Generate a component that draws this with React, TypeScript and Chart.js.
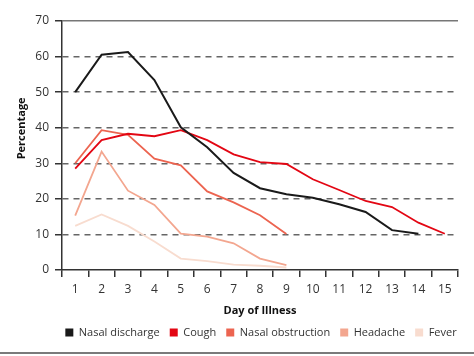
import React, { useEffect, useRef } from "react";
import { Chart, registerables } from "chart.js";

Chart.register(...registerables);

const days = ["1", "2", "3", "4", "5", "6", "7", "8", "9", "10", "11", "12", "13", "14", "15"];
const nasalDischarge = [50, 60.5, 61.3, 53.4, 40.1, 34.5, 27.3, 23, 21.3, 20.3, 18.5, 16.3, 11.2, 10.2, null];
const cough = [28.5, 36.5, 38.3, 37.6, 39.3, 36.5, 32.5, 30.3, 29.8, 25.5, 22.5, 19.4, 17.7, 13.3, 10.2];
const nasalObstruction = [30, 39.3, 38, 31.3, 29.4, 22.1, 19, 15.4, 10.1, null, null, null, null, null, null];
const headache = [15.3, 33.3, 22.3, 18.3, 10.2, 9.4, 7.5, 3.2, 1.4, null, null, null, null, null, null];
const fever = [12.4, 15.6, 12.4, 8, 3.2, 2.5, 1.5, 1.2, 0.7, null, null, null, null, null, null];
const seriesNames = ["Nasal discharge", "Cough", "Nasal obstruction", "Headache", "Fever"];
const seriesColors = ["#1a1a1a", "#e30613", "#ec6450", "#f3a68f", "#f8dccf"];
const yTitle = "Percentage";
const xTitle = "Day of Illness";

const FONT = "'Open Sans', 'Noto Sans', sans-serif";

export default function App() {
  const ref = useRef<HTMLCanvasElement | null>(null);

  useEffect(() => {
    document.body.style.margin = "0";
    const canvas = ref.current;
    if (!canvas) return;
    const values = [nasalDischarge, cough, nasalObstruction, headache, fever];

    const shiftLegend = {
      id: "shiftLegend",
      afterLayout(chart: any) {
        const l = chart.legend;
        if (l) {
          l.left += 32;
          l.right += 32;
        }
      },
    };
    const bottomRule = {
      id: "bottomRule",
      afterDraw(chart: any) {
        const ctx = chart.ctx;
        ctx.save();
        ctx.strokeStyle = "#7a7a7a";
        ctx.lineWidth = 2;
        ctx.beginPath();
        ctx.moveTo(0, 353);
        ctx.lineTo(chart.width, 353);
        ctx.stroke();
        ctx.restore();
      },
    };

    const chart = new Chart(canvas, {
      type: "line",
      data: {
        labels: days,
        datasets: values.map((v, i) => ({
          label: seriesNames[i],
          data: v,
          borderColor: seriesColors[i],
          backgroundColor: seriesColors[i],
          borderWidth: i === 0 ? 2 : 1.8,
          pointRadius: 0,
          tension: 0,
          spanGaps: false,
        })),
      },
      options: {
        animation: false,
        responsive: false,
        maintainAspectRatio: false,
        layout: { padding: { top: 21, right: 16, left: 0, bottom: 8 } },
        plugins: {
          tooltip: { enabled: false },
          legend: {
            position: "bottom",
            labels: {
              boxWidth: 8,
              boxHeight: 8,
              padding: 10,
              color: "#333",
              font: { family: FONT, size: 11 },
              generateLabels(chart: any) {
                const items = Chart.defaults.plugins.legend.labels.generateLabels(chart);
                return items.map((it: any) => ({ ...it, lineWidth: 0 }));
              },
            },
          },
        },
        scales: {
          x: {
            type: "category",
            offset: true,
            afterFit(scale: any) {
              scale.height = 47;
            },
            grid: {
              offset: true,
              drawOnChartArea: true,
              color: (c: any) => (c.index === days.length ? "#777" : "rgba(0,0,0,0)"),
              tickColor: "#333",
              tickLength: 7,
              lineWidth: 1.5,
              tickWidth: 1.5,
            },
            border: { display: true, color: "#333", width: 1.5 },
            ticks: {
              color: "#333",
              padding: 5,
              font: { family: FONT, size: 12 },
              maxRotation: 0,
            },
            title: {
              display: true,
              text: xTitle,
              color: "#111",
              font: { family: FONT, size: 11, weight: "bold" },
              padding: { top: 0, bottom: 0 },
            },
          },
          y: {
            min: 0,
            max: 70,
            afterFit(scale: any) {
              scale.width = 62;
            },
            ticks: {
              stepSize: 10,
              color: "#333",
              padding: 6,
              font: { family: FONT, size: 12 },
            },
            grid: {
              color: (c: any) => {
                const v = c.tick ? c.tick.value : 0;
                if (v === 0) return "rgba(0,0,0,0)";
                if (v === 70) return "#777";
                return "#666";
              },
              tickColor: "#333",
              tickLength: 7,
              lineWidth: 1.5,
              tickWidth: 1.5,
            },
            border: {
              display: true,
              color: "#333",
              width: 1.5,
              dash: (c: any) => (c.tick && c.tick.value > 0 && c.tick.value < 70 ? [6, 5] : []),
            },
            title: {
              display: true,
              text: "            " + yTitle,
              color: "#111",
              font: { family: FONT, size: 11, weight: "bold" },
              padding: { top: 15, bottom: 0 },
            },
          },
        },
      },
      plugins: [shiftLegend, bottomRule],
    } as any);

    return () => chart.destroy();
  }, []);

  return (
    <div style={{ width: 474, height: 356 }}>
      <canvas ref={ref} width={474} height={356} style={{ display: "block", width: 474, height: 356 }} />
    </div>
  );
}
